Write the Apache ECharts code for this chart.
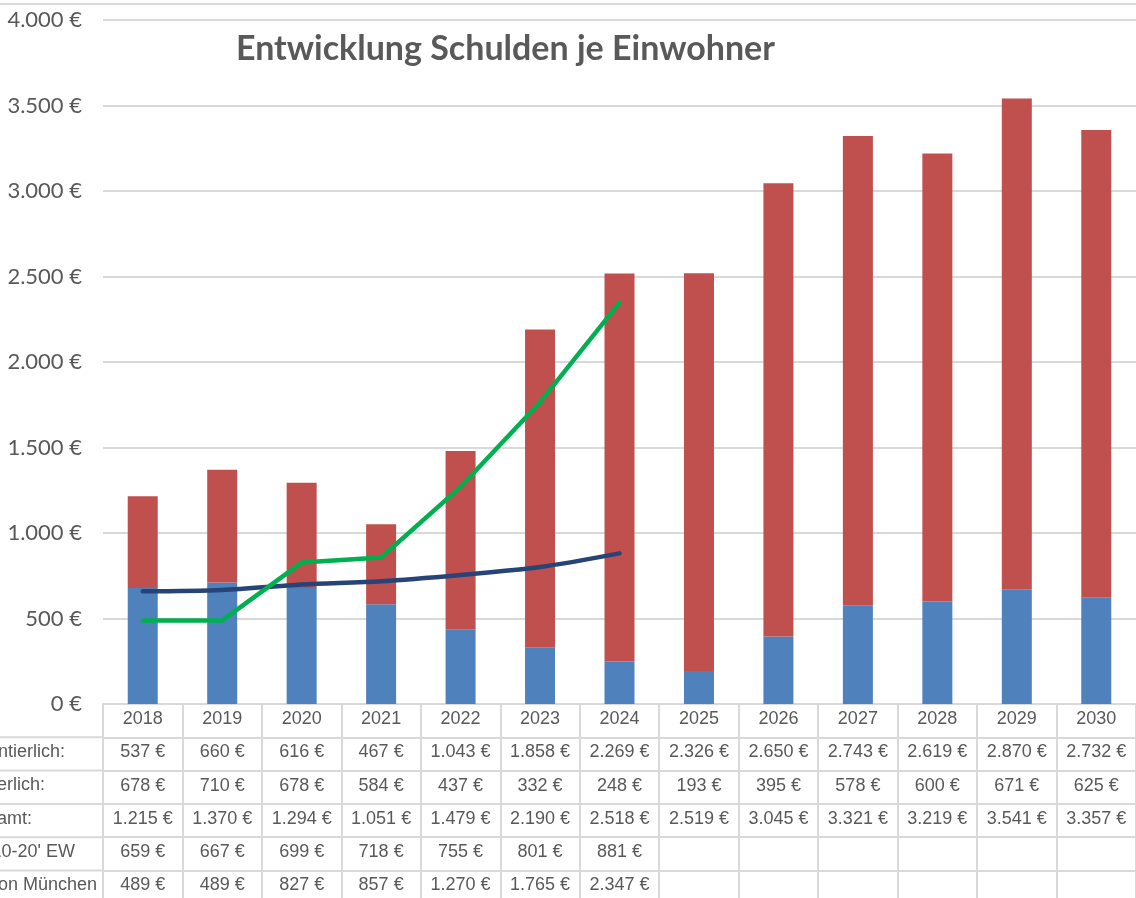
<!DOCTYPE html>
<html>
<head>
<meta charset="utf-8">
<script src="https://cdn.jsdelivr.net/npm/echarts@6/dist/echarts.min.js"></script>
<style>
  html, body { margin: 0; padding: 0; background: #fff; }
  #chart { width: 1136px; height: 898px; }
</style>
</head>
<body>
<div id="chart"></div>
<script>
// Jahre
const years = ["2018", "2019", "2020", "2021", "2022", "2023", "2024", "2025", "2026", "2027", "2028", "2029", "2030"];
// Tabellenzeilen (rot = unrentierlich, blau = rentierlich)
const unrentierlich = [537, 660, 616, 467, 1043, 1858, 2269, 2326, 2650, 2743, 2619, 2870, 2732];
const rentierlich = [678, 710, 678, 584, 437, 332, 248, 193, 395, 578, 600, 671, 625];
const gesamt = [1215, 1370, 1294, 1051, 1479, 2190, 2518, 2519, 3045, 3321, 3219, 3541, 3357];
const schnitt = [659, 667, 699, 718, 755, 801, 881, null, null, null, null, null, null];
const muenchen = [489, 489, 827, 857, 1270, 1765, 2347, null, null, null, null, null, null];
// Zeilenbeschriftungen links (im Original abgeschnitten)
const rowNames = ["Schulden unrentierlich:", "Schulden rentierlich:", "Schulden gesamt:", "Durchschnitt 10-20' EW", "Durchschnitt Region München"];
const rowNameEnds = [65, 45, 32, 75, 97];

const rows = [unrentierlich, rentierlich, gesamt, schnitt, muenchen];

function euro(v) {
  if (v === null || v === undefined) return "";
  return String(v).replace(/\B(?=(\d{3})+(?!\d))/g, ".") + " €";
}

const gridTop = 20, gridBottom = 898 - 704, gridLeft = 103;
const rowH = 33.3;
const lineColor = "#d9d9d9";
const textColor = "#595959";
const tableFont = "'Liberation Sans Narrow', 'Arial Narrow', 'Liberation Sans', sans-serif";
const tableSize = 18;

let chart = echarts.init(document.getElementById("chart"));

// x-Achsen: Jahreszeile + eine Achse pro Tabellenzeile
let xAxes = [{
  type: "category",
  data: years,
  position: "bottom",
  offset: 0,
  axisLine: { lineStyle: { color: lineColor, width: 2 } },
  axisTick: { show: true, interval: 0, length: 194, lineStyle: { color: lineColor, width: 2 } },
  axisLabel: { interval: 0, color: textColor, fontSize: tableSize, fontFamily: tableFont, margin: 15, verticalAlign: "middle" },
}];
rows.forEach((r, k) => {
  xAxes.push({
    type: "category",
    data: years,
    position: "bottom",
    offset: (k + 1) * rowH,
    axisLine: { lineStyle: { color: lineColor, width: 2 } },
    axisTick: { show: false },
    axisLabel: {
      interval: 0,
      color: textColor,
      fontSize: tableSize,
      fontFamily: tableFont,
      margin: 15,
      verticalAlign: "middle",
      formatter: (v, i) => euro(r[i]),
    },
  });
});

let graphics = [
  { type: "line", shape: { x1: 0, y1: 4, x2: 1136, y2: 4 }, style: { stroke: lineColor, lineWidth: 2 } },
];
rows.forEach((r, k) => {
  let y = 704 + (k + 1) * rowH;
  graphics.push({ type: "line", shape: { x1: 0, y1: y, x2: gridLeft, y2: y }, style: { stroke: lineColor, lineWidth: 2 } });
  graphics.push({
    type: "text",
    x: rowNameEnds[k],
    y: y + rowH / 2 - 2,
    style: { text: rowNames[k], textAlign: "right", textVerticalAlign: "middle", fill: textColor, font: tableSize + "px " + tableFont },
  });
});

chart.setOption({
  animation: false,
  title: {
    text: "Entwicklung Schulden je Einwohner",
    left: 231,
    top: 27,
    textStyle: { color: textColor, fontSize: 34, fontWeight: "bold", fontFamily: "Lato, sans-serif" },
  },
  grid: { left: gridLeft, right: -2, top: gridTop, bottom: gridBottom },
  xAxis: xAxes,
  yAxis: {
    type: "value",
    min: 0,
    max: 4000,
    interval: 500,
    axisLine: { show: false },
    axisTick: { show: false },
    splitLine: { lineStyle: { color: lineColor, width: 2 } },
    axisLabel: {
      color: textColor,
      fontSize: 22,
      fontFamily: "Lato, sans-serif",
      margin: 21,
      formatter: (v) => euro(v),
    },
  },
  series: [
    {
      name: "rentierlich",
      type: "bar",
      stack: "schulden",
      barWidth: 30,
      data: rentierlich,
      itemStyle: { color: "#4f81bd" },
    },
    {
      name: "unrentierlich",
      type: "bar",
      stack: "schulden",
      barWidth: 30,
      data: unrentierlich,
      itemStyle: { color: "#c0504d" },
    },
    {
      name: "Durchschnitt 10-20' EW",
      type: "line",
      data: schnitt,
      smooth: 0.3,
      showSymbol: false,
      symbol: "none",
      lineStyle: { color: "#264478", width: 4.5, cap: "round" },
      z: 3,
    },
    {
      name: "Region München",
      type: "line",
      data: muenchen,
      showSymbol: false,
      symbol: "none",
      lineStyle: { color: "#00b050", width: 4.5, cap: "round" },
      z: 4,
    },
  ],
  graphic: graphics,
});
</script>
</body>
</html>
